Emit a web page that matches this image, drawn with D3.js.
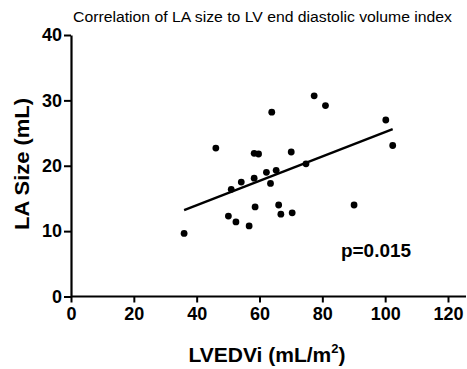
<!DOCTYPE html>
<html>
<head>
<meta charset="utf-8">
<script src="https://cdn.jsdelivr.net/npm/d3@7"></script>
<style>
  body { margin: 0; background: #fff; }
  text { font-family: "Liberation Sans", Arial, sans-serif; }
</style>
</head>
<body>
<div id="chart"></div>
<script>
// data
const lvedvi = [36, 46.1, 50.1, 52.5, 56.7, 51, 54.2, 58.3, 58.6, 58.3, 59.7, 63.9, 62.2, 65.3,
  63.5, 66.1, 66.8, 70.4, 70.1, 74.8, 77.4, 81, 90.1, 100.2, 102.4];
const laSize = [9.65, 22.7, 12.3, 11.4, 10.8, 16.4, 17.5, 18.1, 13.7, 21.9, 21.8, 28.2, 19, 19.3,
  17.3, 14, 12.6, 12.8, 22.1, 20.3, 30.7, 29.2, 14, 27, 23.1];
const fitX = [36, 102.4];
const fitY = [13.2, 25.6];
const xTicks = [0, 20, 40, 60, 80, 100, 120];
const yTicks = [0, 10, 20, 30, 40];

const width = 467, height = 369;
const margin = { top: 35, right: 1, bottom: 72, left: 71 };

const svg = d3.select("#chart").append("svg")
  .attr("width", width)
  .attr("height", height);

const x = d3.scaleLinear().domain([0, 120]).range([margin.left, 448]);
const y = d3.scaleLinear().domain([0, 40]).range([296.5, margin.top]);

// title
svg.append("text")
  .attr("x", 73).attr("y", 22)
  .attr("textLength", 379).attr("lengthAdjust", "spacingAndGlyphs")
  .style("font-size", "14px")
  .text("Correlation of LA size to LV end diastolic volume index");

// x axis
const xAxis = svg.append("g")
  .attr("transform", `translate(0,${y(0)})`)
  .call(d3.axisBottom(x).tickValues(xTicks).tickSize(6).tickPadding(5).tickSizeOuter(0));
xAxis.select(".domain").attr("d", `M${x(0)},0H${width - 1}`).attr("stroke-width", 2.2);
xAxis.selectAll(".tick line").attr("stroke-width", 2);
xAxis.selectAll(".tick text")
  .style("font-size", "18px").style("font-weight", "bold")
  .style("font-family", "'Liberation Sans', Arial, sans-serif").attr("fill", "#000");

// y axis
const yAxis = svg.append("g")
  .attr("transform", `translate(${x(0)},0)`)
  .call(d3.axisLeft(y).tickValues(yTicks).tickSize(7).tickPadding(2).tickSizeOuter(0));
yAxis.select(".domain").attr("stroke-width", 2.2);
yAxis.selectAll(".tick line").attr("stroke-width", 2);
yAxis.selectAll(".tick text")
  .style("font-size", "18px").style("font-weight", "bold")
  .style("font-family", "'Liberation Sans', Arial, sans-serif").attr("fill", "#000");

// axis titles
svg.append("text")
  .attr("transform", "translate(29,164) rotate(-90)")
  .attr("text-anchor", "middle")
  .attr("textLength", 132).attr("lengthAdjust", "spacingAndGlyphs")
  .style("font-size", "21px").style("font-weight", "bold")
  .text("LA Size (mL)");

const xl = svg.append("text")
  .attr("x", 267).attr("y", 362)
  .attr("text-anchor", "middle")
  .style("font-size", "21px").style("font-weight", "bold");
xl.append("tspan").text("LVEDVi (mL/m");
xl.append("tspan").attr("dy", -9).style("font-size", "13px").text("2");
xl.append("tspan").attr("dy", 9).text(")");

// regression line
svg.append("line")
  .attr("x1", x(fitX[0])).attr("y1", y(fitY[0]))
  .attr("x2", x(fitX[1])).attr("y2", y(fitY[1]))
  .attr("stroke", "#000").attr("stroke-width", 2.4);

// points
svg.selectAll(".dot")
  .data(lvedvi.map((v, i) => [v, laSize[i]]))
  .enter()
  .append("circle")
  .attr("class", "dot")
  .attr("cx", d => x(d[0]))
  .attr("cy", d => y(d[1]))
  .attr("r", 3.4)
  .attr("fill", "#000");

// p value
svg.append("text")
  .attr("x", 341).attr("y", 257)
  .attr("textLength", 70).attr("lengthAdjust", "spacingAndGlyphs")
  .style("font-size", "18px").style("font-weight", "bold")
  .text("p=0.015");
</script>
</body>
</html>
